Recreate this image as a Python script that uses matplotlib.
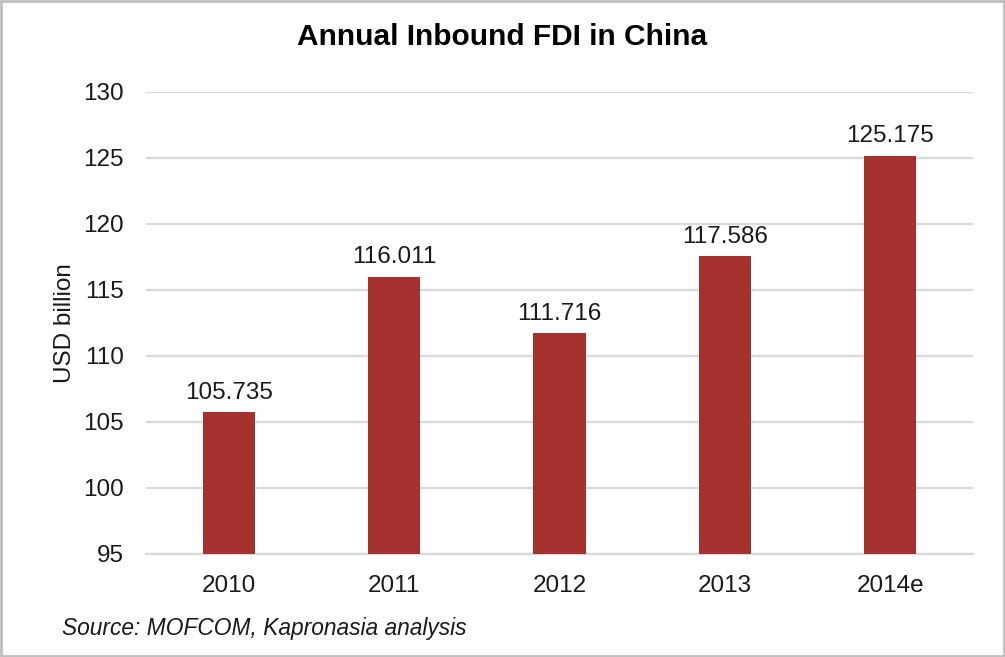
import matplotlib.pyplot as plt
from matplotlib.patches import Rectangle

plt.rcParams['font.family'] = ['Liberation Sans', 'DejaVu Sans']

years = ['2010', '2011', '2012', '2013', '2014e']
fdi = [105.735, 116.011, 111.716, 117.586, 125.175]
yticks = [95, 100, 105, 110, 115, 120, 125, 130]

bar_color = '#A5322E'
grid_color = '#D9D9D9'

fig = plt.figure(figsize=(10.05, 6.57), dpi=100)
ax = fig.add_axes([146 / 1005, 1 - 554 / 657, 827 / 1005, 462 / 657])

x = range(len(years))
bars = ax.bar(x, [v - 95 for v in fdi], bottom=95, width=0.315, color=bar_color, zorder=3)

for xi, v in zip(x, fdi):
    ax.annotate(f'{v:.3f}', (xi, v), xytext=(0, 6), textcoords='offset points',
                ha='center', va='bottom', fontsize=17.5, color='#1a1a1a')

ax.set_xlim(-0.5, len(years) - 0.5)
ax.set_ylim(95, 130)
ax.set_yticks(yticks)
ax.set_xticks(list(x))
ax.set_xticklabels(years)
ax.tick_params(axis='both', length=0, labelsize=17.5, labelcolor='#1a1a1a')
ax.tick_params(axis='y', pad=16)
ax.tick_params(axis='x', pad=15)
ax.yaxis.grid(True, color=grid_color, linewidth=1.6, zorder=0)
for side in ['top', 'right', 'left']:
    ax.spines[side].set_visible(False)
ax.spines['bottom'].set_color(grid_color)
ax.spines['bottom'].set_linewidth(1.6)
ax.set_ylabel('USD billion', fontsize=17.5, color='#1a1a1a', labelpad=5)

fig.text(0.5, 1 - 37 / 657, 'Annual Inbound FDI in China', ha='center', va='center',
         fontsize=21.5, fontweight='bold')
fig.text(62 / 1005, 1 - 628 / 657, 'Source: MOFCOM, Kapronasia analysis', ha='left', va='center',
         fontsize=16.4, style='italic', color='#1a1a1a')

fig.patches.append(Rectangle((0.001, 0.0015), 0.998, 0.997, transform=fig.transFigure,
                             fill=False, edgecolor='#BFBFBF', linewidth=2))

fig.savefig('out.png', dpi=100)
